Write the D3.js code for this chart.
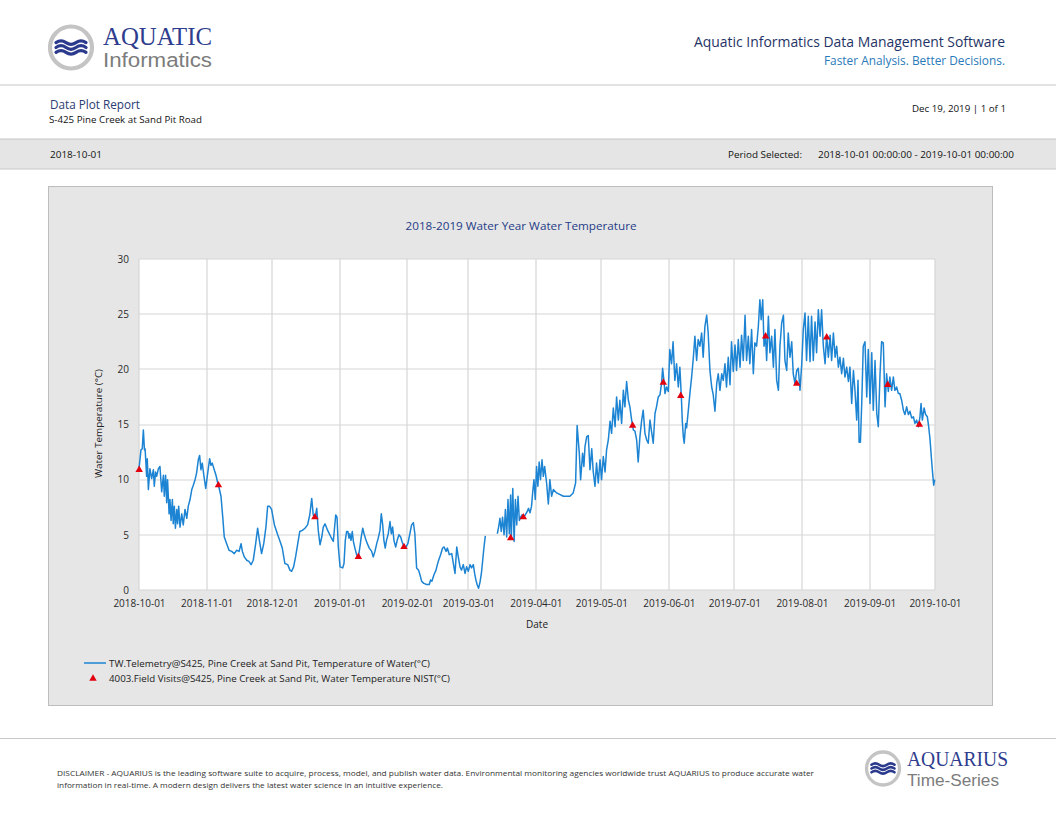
<!DOCTYPE html>
<html><head><meta charset="utf-8">
<script src="https://cdn.jsdelivr.net/npm/d3@7"></script>
<style>
body{margin:0;background:#fff}
svg{display:block;font-family:"Open Sans","Noto Sans","DejaVu Sans",sans-serif}
</style>
</head><body>
<svg id="c" width="1056" height="816"></svg>
<script>
// ---------------- DATA ----------------
const periodStart = "2018-10-01T00:00:00";
const periodEnd   = "2019-10-01T00:00:00";
const xTickLabels = ["2018-10-01","2018-11-01","2018-12-01","2019-01-01","2019-02-01","2019-03-01",
  "2019-04-01","2019-05-01","2019-06-01","2019-07-01","2019-08-01","2019-09-01","2019-10-01"];
const yTicks = [0,5,10,15,20,25,30];

// Telemetry readings: [days since period start, water temperature °C] (null = no data)
const tempOctDec = [[0,11.0],[0.9,12.7],[1.5,12.8],[2.0,14.5],[2.5,12.7],[2.8,12.8],[3.5,10.3],[3.8,11.9],[4.3,9.1],[5.0,11.0],[5.8,10.1],[6.6,10.9],[7.0,9.4],[7.6,10.7],[8.1,10.3],[8.9,11.0],[9.6,11.2],[10.4,8.9],[11.2,10.4],[11.6,8.5],[12.2,10.4],[12.7,7.9],[13.1,10.0],[13.8,6.9],[14.2,8.2],[14.7,6.3],[15.3,8.2],[15.7,6.0],[16.2,7.6],[16.7,5.6],[17.3,7.3],[17.7,6.0],[18.2,7.6],[18.8,5.7],[19.6,6.9],[20.3,5.9],[21.1,7.3],[21.9,6.5],[22.6,7.6],[23.4,8.2],[24.2,9.1],[24.9,9.5],[25.7,10.0],[26.4,10.6],[27.2,11.8],[27.8,12.2],[28.4,10.9],[29.0,11.5],[29.8,10.3],[30.6,9.2],[31.3,10.3],[32.4,11.9],[33.0,11.3],[33.6,11.5],[34.5,10.9],[35.3,10.4],[36.1,9.7],[36.8,9.2],[37.6,8.5],[38.4,6.6],[39.1,4.8],[40.2,4.2],[41.3,3.6],[42.5,3.5],[43.7,3.3],[44.8,3.6],[45.9,3.5],[46.8,4.2],[47.4,3.5],[48.3,3.0],[49.4,2.7],[50.4,2.6],[51.4,2.3],[52.4,2.7],[53.5,4.2],[54.4,5.6],[55.2,4.5],[56.2,3.3],[57.2,4.2],[58.2,5.7],[59.0,7.6],[59.8,7.6],[60.8,7.3],[62.1,5.9],[63.6,5.0],[64.7,4.4],[65.7,3.8],[66.9,2.4],[68.2,2.3],[69.2,1.8],[70.0,1.7],[70.9,2.1],[71.8,3.0],[72.8,4.2],[73.7,5.3],[74.9,5.4],[76.1,5.6],[77.3,5.9],[78.3,6.8],[79.2,8.3],[79.9,6.8],[80.7,6.5],[81.5,7.4],[82.2,5.4],[83.0,4.1],[83.8,4.8],[84.5,5.7],[85.3,6.0],[86.5,5.4],[88.0,4.8],[89.1,4.4],[90.2,6.8],[90.8,6.6],[91.4,3.9]];
const tempJanMar = [[92.2,2.1],[93.4,2.0],[94.0,2.4],[94.6,4.5],[95.2,5.3],[95.8,5.3],[96.3,4.7],[96.7,5.1],[97.2,4.5],[97.8,5.3],[98.3,4.4],[99.0,3.8],[99.8,3.2],[100.6,3.0],[101.3,3.9],[101.9,4.8],[102.6,5.6],[103.2,5.1],[103.8,4.7],[104.7,4.2],[105.6,3.8],[106.7,3.5],[107.4,3.0],[108.2,3.5],[109.0,4.2],[109.7,4.7],[110.5,5.4],[111.1,6.9],[111.7,6.0],[112.3,4.5],[112.9,3.8],[113.5,4.5],[114.3,5.1],[115.1,6.2],[115.7,5.1],[116.3,5.7],[116.9,4.5],[117.7,3.9],[118.4,4.5],[119.2,5.0],[120.0,4.8],[120.6,4.4],[121.5,3.9],[122.4,3.9],[123.3,4.2],[124.2,5.1],[125.0,5.9],[125.8,6.1],[126.5,5.1],[127.3,2.0],[128.2,1.8],[128.8,1.4],[129.6,0.8],[130.6,0.6],[131.9,0.5],[133.1,0.5],[133.7,0.9],[134.3,0.8],[135.3,1.4],[136.2,1.8],[136.8,2.3],[137.4,2.7],[138.3,3.2],[139.2,3.8],[139.9,3.9],[140.8,3.5],[141.4,3.8],[142.3,3.2],[143.4,3.3],[144.4,2.1],[144.9,1.5],[145.7,3.9],[146.4,3.0],[147.2,2.1],[147.9,1.8],[148.7,2.3],[149.5,1.5],[150.2,2.1],[151.0,1.7],[151.8,2.3],[152.5,2.0],[153.3,2.3],[153.9,1.5],[154.5,0.9],[155.1,0.45],[155.7,0.15],[156.4,0.75],[157.0,1.5],[157.6,2.7],[158.2,3.9],[158.8,4.9],[161.0,null],[164.3,5.1],[164.9,5.7],[165.5,6.5],[166.1,5.3],[166.7,6.6],[167.4,5.0],[168.0,7.3],[168.6,4.8],[169.2,8.2],[169.8,5.1],[170.4,8.6],[170.7,4.7],[171.4,9.2],[172.0,4.4],[172.6,8.2],[173.2,5.9],[173.8,8.5],[174.4,6.3],[175.0,6.6],[175.6,6.8],[176.2,6.6],[177.1,6.8],[178.0,7.1],[178.6,7.4],[179.3,7.0],[180.0,7.6],[180.5,8.8],[181.1,10.0],[181.7,8.2]];
const tempAprJun = [[182.3,11.2],[182.9,9.4],[183.5,11.6],[184.1,10.0],[184.8,11.8],[185.4,10.3],[186.0,11.2],[186.9,9.7],[187.7,7.8],[188.4,10.0],[189.2,8.5],[190.0,9.1],[191.5,8.8],[194.6,8.5],[197.6,8.5],[199.1,8.8],[200.2,9.7],[200.9,14.9],[201.9,12.4],[202.5,10.0],[203.4,12.4],[204.0,11.2],[204.5,13.0],[205.3,13.9],[206.0,14.0],[206.8,10.9],[207.6,12.8],[208.3,10.7],[209.1,9.4],[209.8,11.5],[210.6,9.7],[211.4,11.8],[212.1,10.0],[212.9,12.1],[213.7,10.7],[214.4,12.7],[215.2,13.6],[216.0,15.3],[216.7,14.2],[217.5,16.5],[218.3,14.8],[219.0,17.5],[219.8,15.4],[220.5,17.2],[221.3,15.1],[222.1,18.1],[222.8,16.6],[223.6,18.9],[224.4,17.2],[225.1,16.6],[225.9,15.4],[226.7,14.5],[227.4,14.4],[228.2,13.6],[228.9,11.6],[229.7,13.9],[230.5,15.4],[231.2,16.3],[232.0,14.2],[232.8,13.6],[233.5,13.3],[234.3,15.4],[235.0,14.4],[235.8,13.3],[236.6,16.0],[237.3,16.6],[238.1,17.5],[238.9,17.7],[239.6,18.7],[240.1,20.1],[240.7,19.0],[241.2,17.8],[241.9,18.4],[242.7,18.0],[243.4,21.8],[244.2,20.5],[244.9,22.5],[245.7,19.0],[246.5,20.5],[247.3,18.4],[248.0,20.2],[248.7,17.5],[249.1,15.4],[249.6,13.9],[250.0,13.3],[250.7,15.1],[251.1,14.7],[251.9,16.3],[252.6,17.8],[253.4,19.3],[254.2,21.1],[254.9,23.0],[255.7,20.8],[256.4,22.7],[257.2,22.1],[258.0,23.3],[258.7,21.1],[259.5,23.9],[260.3,24.9],[261.0,23.3],[261.8,19.9],[262.6,18.4],[263.3,17.7],[264.1,16.2],[264.9,18.7],[265.6,19.6],[266.4,18.1],[267.2,19.6],[267.9,19.0],[268.7,20.5],[269.4,18.4],[270.2,21.1]];
const tempJulSep = [[271.0,18.6],[271.7,22.5],[272.5,19.8],[273.3,22.2],[274.0,19.9],[274.8,22.7],[275.6,20.2],[276.3,23.1],[277.1,20.8],[277.9,24.9],[278.6,20.8],[279.4,23.0],[280.1,20.5],[280.9,23.6],[281.7,19.6],[282.4,22.4],[283.2,22.1],[284.0,23.9],[284.7,26.3],[285.3,24.5],[286.0,26.3],[286.6,22.1],[287.3,23.0],[287.8,20.8],[288.6,24.8],[289.3,21.5],[290.1,23.0],[290.9,20.2],[291.6,23.6],[292.4,19.0],[293.2,18.1],[293.9,22.1],[294.7,24.2],[295.5,24.9],[296.2,20.8],[297.0,19.9],[297.7,23.3],[298.5,21.1],[299.3,22.5],[300.0,19.6],[300.8,18.7],[301.6,19.9],[302.3,20.1],[303.1,18.1],[303.9,20.5],[304.6,23.6],[305.4,25.1],[306.1,20.8],[306.9,24.8],[307.7,20.7],[308.4,24.8],[309.2,20.8],[310.0,24.3],[310.7,21.5],[311.5,25.4],[312.3,23.0],[313.0,25.4],[313.8,22.1],[314.6,20.5],[315.3,23.1],[316.1,21.1],[316.9,23.1],[317.6,20.8],[318.4,23.3],[319.2,21.1],[319.9,22.1],[320.7,20.2],[321.4,21.1],[322.2,19.6],[323.0,21.0],[323.7,19.3],[324.5,20.2],[325.3,18.9],[326.0,20.2],[326.8,16.9],[327.6,19.9],[328.3,18.1],[329.1,15.4],[329.7,19.0],[330.2,13.4],[330.8,13.4],[331.4,16.9],[332.1,22.1],[332.9,22.5],[333.7,17.5],[334.4,21.8],[335.2,16.9],[336.0,21.5],[336.7,16.3],[337.5,20.8],[338.3,16.0],[339.0,14.8],[339.8,19.6],[340.5,22.5],[341.3,22.4],[342.1,16.6],[342.8,19.6],[343.6,18.0],[344.3,19.3],[345.1,18.1],[345.9,19.3],[346.6,18.1],[347.4,18.4],[348.2,17.8],[348.9,17.8],[349.7,17.2],[350.5,16.3],[351.2,15.9],[352.0,16.6],[352.8,15.9],[353.5,16.2],[354.3,15.6],[355.1,15.7],[355.8,15.1],[356.6,15.4],[357.4,14.8],[358.1,15.7],[358.6,16.9],[359.2,15.4],[360.0,16.5],[360.7,15.9],[361.5,15.7],[362.1,14.8],[362.7,13.7],[363.3,12.1],[363.9,10.6],[364.4,9.5],[364.9,10.0]];

// Field visits
const visitDates = ["2018-10-01T02:00","2018-11-06T10:00","2018-12-20T16:00","2019-01-09T14:00","2019-01-30T12:00",
  "2019-03-20T10:00","2019-03-26T05:00","2019-05-15T08:00","2019-05-29T10:00","2019-06-06T10:00",
  "2019-07-15T08:00","2019-07-29T14:00","2019-08-12T08:00","2019-09-09T08:00","2019-09-23T20:00"];
const visitValues = [10.9,9.5,6.6,3.0,3.9,4.7,6.6,14.9,18.8,17.6,23.0,18.7,22.9,18.6,15.0];

const legendLabels = ["TW.Telemetry@S425, Pine Creek at Sand Pit, Temperature of Water(°C)",
  "4003.Field Visits@S425, Pine Creek at Sand Pit, Water Temperature NIST(°C)"];

// ---------------- DRAW ----------------
const svg = d3.select("#c");
const navy = "#1f3466", lineBlue = "#1c84d3";
const SERIF = '"Liberation Serif","DejaVu Serif",serif';
const SANS2 = '"Liberation Sans",Arial,sans-serif';

function txt(x, y, s, o = {}) {
  const t = svg.append("text").attr("x", x).attr("y", y).text(s)
    .attr("font-size", o.size || 9).attr("fill", o.fill || "#222")
    .attr("text-anchor", o.anchor || "start");
  if (o.family) t.style("font-family", o.family);
  if (o.len) t.attr("textLength", o.len).attr("lengthAdjust", "spacingAndGlyphs");
  return t;
}
function logo(cx, cy, r, waveW, sw) {
  svg.append("circle").attr("cx", cx).attr("cy", cy).attr("r", r)
    .attr("fill", "#fff").attr("stroke", "#c4c4c4").attr("stroke-width", r * 0.2);
  const step = waveW / 3;
  [-1, 0, 1].forEach(k => {
    const yy = cy + k * r * 0.23;
    svg.append("path")
      .attr("d", `M${cx - waveW / 2},${yy} q${step / 2},${-r * 0.17} ${step},0 t${step},0 t${step},0`)
      .attr("fill", "none").attr("stroke", "#2b3a8c").attr("stroke-width", sw).attr("stroke-linecap", "round");
  });
}

// Header
logo(71, 47.5, 21, 30, 3.2);
txt(103, 45, "AQUATIC", {size: 25, fill: "#2e3d8e", family: SERIF, len: 109});
txt(103, 67, "Informatics", {size: 19.5, fill: "#7c7c7c", family: SANS2, len: 109});
txt(1005, 47, "Aquatic Informatics Data Management Software", {size: 14.5, fill: navy, anchor: "end", len: 311});
txt(1005, 64.5, "Faster Analysis. Better Decisions.", {size: 12, fill: "#2a7ab9", anchor: "end", len: 181});
svg.append("line").attr("x1", 0).attr("x2", 1056).attr("y1", 85).attr("y2", 85).attr("stroke", "#c8c8c8").attr("stroke-width", 1.2);

txt(50, 109, "Data Plot Report", {size: 12.5, fill: "#2a3c72", len: 90});
txt(49, 123, "S-425 Pine Creek at Sand Pit Road", {size: 9.5, fill: "#111", len: 153});
txt(1006, 111.5, "Dec 19, 2019 | 1 of 1", {size: 9.5, fill: "#111", anchor: "end", len: 94});

svg.append("rect").attr("x", -1).attr("y", 139).attr("width", 1058).attr("height", 30)
  .attr("fill", "#e5e5e5").attr("stroke", "#c6c6c6");
txt(50, 157.5, periodStart.slice(0, 10), {size: 9.5, fill: "#111", len: 52});
txt(728, 157.5, "Period Selected:", {size: 9.5, fill: "#111", len: 74});
txt(818, 157.5, periodStart.replace("T", " ") + " - " + periodEnd.replace("T", " "), {size: 9.5, fill: "#111", len: 196});

// Chart panel
svg.append("rect").attr("x", 48.5).attr("y", 186.5).attr("width", 944).attr("height", 519)
  .attr("fill", "#e6e6e6").attr("stroke", "#bcbcbc");
txt(521, 230, "2018-2019 Water Year Water Temperature", {size: 11, fill: "#1f3c88", anchor: "middle", len: 231});

const plot = {l: 139, r: 935, t: 259, b: 590};
const t0 = new Date(periodStart), t1 = new Date(periodEnd);
const x = d3.scaleTime().domain([t0, t1]).range([plot.l, plot.r]);
const y = d3.scaleLinear().domain([0, 30]).range([plot.b, plot.t]);
const tickDates = xTickLabels.map(s => new Date(s + "T00:00:00"));

svg.append("rect").attr("x", plot.l).attr("y", plot.t).attr("width", plot.r - plot.l).attr("height", plot.b - plot.t).attr("fill", "#fff");

const grid = svg.append("g").attr("stroke", "#d6d6d6").attr("stroke-width", 1.2);
grid.selectAll(".v").data(tickDates).join("line")
  .attr("x1", d => Math.round(x(d))).attr("x2", d => Math.round(x(d))).attr("y1", plot.t).attr("y2", plot.b);
grid.selectAll(".h").data(yTicks).join("line")
  .attr("x1", plot.l).attr("x2", plot.r).attr("y1", d => Math.round(y(d))).attr("y2", d => Math.round(y(d)));

const yAxis = svg.append("g").attr("transform", `translate(${plot.l},0)`)
  .call(d3.axisLeft(y).tickValues(yTicks).tickSize(0).tickPadding(10));
const xAxis = svg.append("g").attr("transform", `translate(0,${plot.b})`)
  .call(d3.axisBottom(x).tickValues(tickDates).tickSize(0).tickPadding(10).tickFormat((d, i) => xTickLabels[i]));
[yAxis, xAxis].forEach(a => {
  a.select(".domain").remove();
  a.attr("font-family", null);
  a.selectAll("text").attr("font-size", 10).attr("fill", "#2a2a2a");
});

svg.append("text").attr("transform", "translate(102,423.5) rotate(-90)").attr("text-anchor", "middle")
  .attr("font-size", 9.5).attr("fill", "#222").attr("textLength", 109).attr("lengthAdjust", "spacingAndGlyphs")
  .text("Water Temperature (°C)");
txt(537, 628, "Date", {size: 10, fill: "#222", anchor: "middle"});

// Telemetry line
const telemetry = [].concat(tempOctDec, tempJanMar, tempAprJun, tempJulSep)
  .map(([d, v]) => ({date: new Date(+t0 + d * 864e5), value: v}));
const line = d3.line().defined(d => d.value != null).x(d => x(d.date)).y(d => y(d.value));
svg.append("path").datum(telemetry).attr("d", line)
  .attr("fill", "none").attr("stroke", lineBlue).attr("stroke-width", 1.5).attr("stroke-linejoin", "round");

// Field visits
const tri = d3.symbol().type(d3.symbolTriangle).size(24);
svg.selectAll(".visit").data(visitDates).join("path")
  .attr("d", tri).attr("fill", "#e3000f")
  .attr("transform", (d, i) => `translate(${x(new Date(d))},${y(visitValues[i])})`);

// Legend
svg.append("line").attr("x1", 84).attr("x2", 106).attr("y1", 663).attr("y2", 663).attr("stroke", lineBlue).attr("stroke-width", 1.5);
txt(109, 666.5, legendLabels[0], {size: 9.5, fill: "#222", len: 321});
svg.append("path").attr("d", tri).attr("fill", "#e3000f").attr("transform", "translate(93,678.5)");
txt(109, 681.5, legendLabels[1], {size: 9.5, fill: "#222", len: 341});

// Footer
svg.append("line").attr("x1", 0).attr("x2", 1056).attr("y1", 738.5).attr("y2", 738.5).attr("stroke", "#c8c8c8").attr("stroke-width", 1.2);
txt(57, 776, "DISCLAIMER - AQUARIUS is the leading software suite to acquire, process, model, and publish water data. Environmental monitoring agencies worldwide trust AQUARIUS to produce accurate water", {size: 8, fill: "#333", len: 757});
txt(57, 788, "information in real-time. A modern design delivers the latest water science in an intuitive experience.", {size: 8, fill: "#333", len: 386});
logo(883, 768.5, 16.5, 23, 2.6);
txt(907, 766, "AQUARIUS", {size: 20, fill: "#2e3d8e", family: SERIF, len: 101});
txt(907, 785.5, "Time-Series", {size: 16, fill: "#7c7c7c", family: SANS2, len: 92});
</script>
</body></html>
